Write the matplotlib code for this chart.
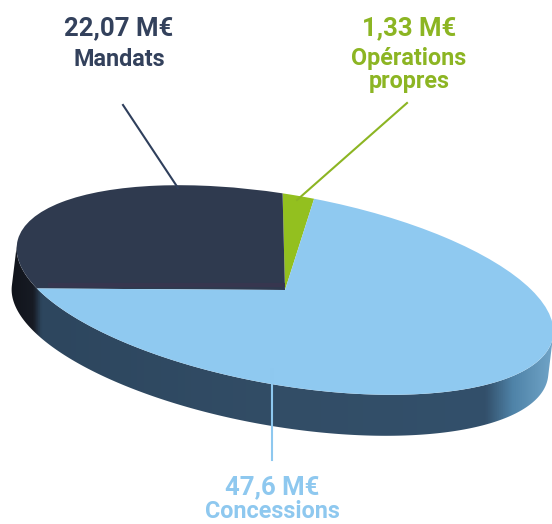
import numpy as np
import matplotlib
matplotlib.use('Agg')
import matplotlib.pyplot as plt
from matplotlib.colors import LinearSegmentedColormap
from matplotlib.patches import Polygon
from matplotlib.transforms import Affine2D

# Pie data, in M€
labels = ['Opérations\npropres', 'Mandats', 'Concessions']
value_labels = ['1,33 M€', '22,07 M€', '47,6 M€']
values = [1.33, 22.07, 47.6]
colors = ['#93c01f', '#2f3a4f', '#8fc9f0']
text_colors = ['#8cb523', '#33415c', '#8ec8ef']

W, H = 552, 524

# Shape of the tilted disc, in pixels
cx, cy = 285, H - 290
a, b = 272, 95
tilt = -10
depth = np.array([-5., -41.])

plt.rcParams['font.family'] = ['Roboto', 'DejaVu Sans']

fig = plt.figure(figsize=(W / 100, H / 100), dpi=100)
ax = fig.add_axes([0, 0, 1, 1])

disc = Affine2D().scale(a, b).rotate_deg(tilt).translate(cx, cy)

# Side of the disc: sweep of the outline along the depth direction
d = np.linalg.solve(disc.get_matrix()[:2, :2], depth)
t0 = np.arctan2(d[1], d[0]) - np.pi / 2
t = np.linspace(t0, t0 + np.pi, 200)
edge = disc.transform(np.c_[np.cos(t), np.sin(t)])
side = Polygon(np.r_[edge + depth, edge[::-1]], closed=True, fc='none', ec='none')
ax.add_patch(side)

side_cmap = LinearSegmentedColormap.from_list('side', [
    (0.00, '#10131a'), (0.045, '#171b24'), (0.06, '#2d465e'),
    (0.50, '#324d66'), (0.88, '#33506b'), (0.93, '#4f83a8'), (1.00, '#6fa3c6')])
im = ax.imshow(np.linspace(0, 1, 256)[None, :], cmap=side_cmap, aspect='auto',
               extent=[8, 552, 0, H], zorder=1)
im.set_clip_path(side)

# Top of the disc
wedges, _ = ax.pie(values, colors=colors, startangle=87.3, radius=1,
                   wedgeprops={'linewidth': 0})
for w in wedges:
    w.set_transform(disc + ax.transData)
    w.set_clip_on(False)
    w.set_zorder(2)

# Darker band along the cut edge of the Mandats slice
ax.plot([48, 285], [H - 285, H - 285], color='#37364f', lw=3, solid_capstyle='butt', zorder=2.5)

# Leader lines
ax.plot([123, 178], [H - 105, H - 188], color='#2f3f5c', lw=1.5, zorder=3)
ax.plot([407, 297], [H - 103, H - 200], color=text_colors[0], lw=1.5, zorder=3)
ax.plot([272, 272], [H - 370, H - 460], color=text_colors[2], lw=1.5, zorder=3)

# Labels
ax.text(409, H - 28, value_labels[0], color=text_colors[0], fontsize=18.5,
        fontweight='bold', ha='center', va='center')
ax.text(409, H - 70, labels[0], color=text_colors[0], fontsize=16.8,
        fontweight='bold', ha='center', va='center', linespacing=0.95)
ax.text(119, H - 28, value_labels[1], color=text_colors[1], fontsize=18.5,
        fontweight='bold', ha='center', va='center')
ax.text(119, H - 59, labels[1], color=text_colors[1], fontsize=16.8,
        fontweight='bold', ha='center', va='center')
ax.text(272, H - 487, value_labels[2], color=text_colors[2], fontsize=18.5,
        fontweight='bold', ha='center', va='center')
ax.text(272, H - 512, labels[2], color=text_colors[2], fontsize=16.8,
        fontweight='bold', ha='center', va='center')

ax.set_aspect('auto')
ax.set_xlim(0, W)
ax.set_ylim(0, H)
ax.axis('off')

fig.savefig('out.png', dpi=100)
